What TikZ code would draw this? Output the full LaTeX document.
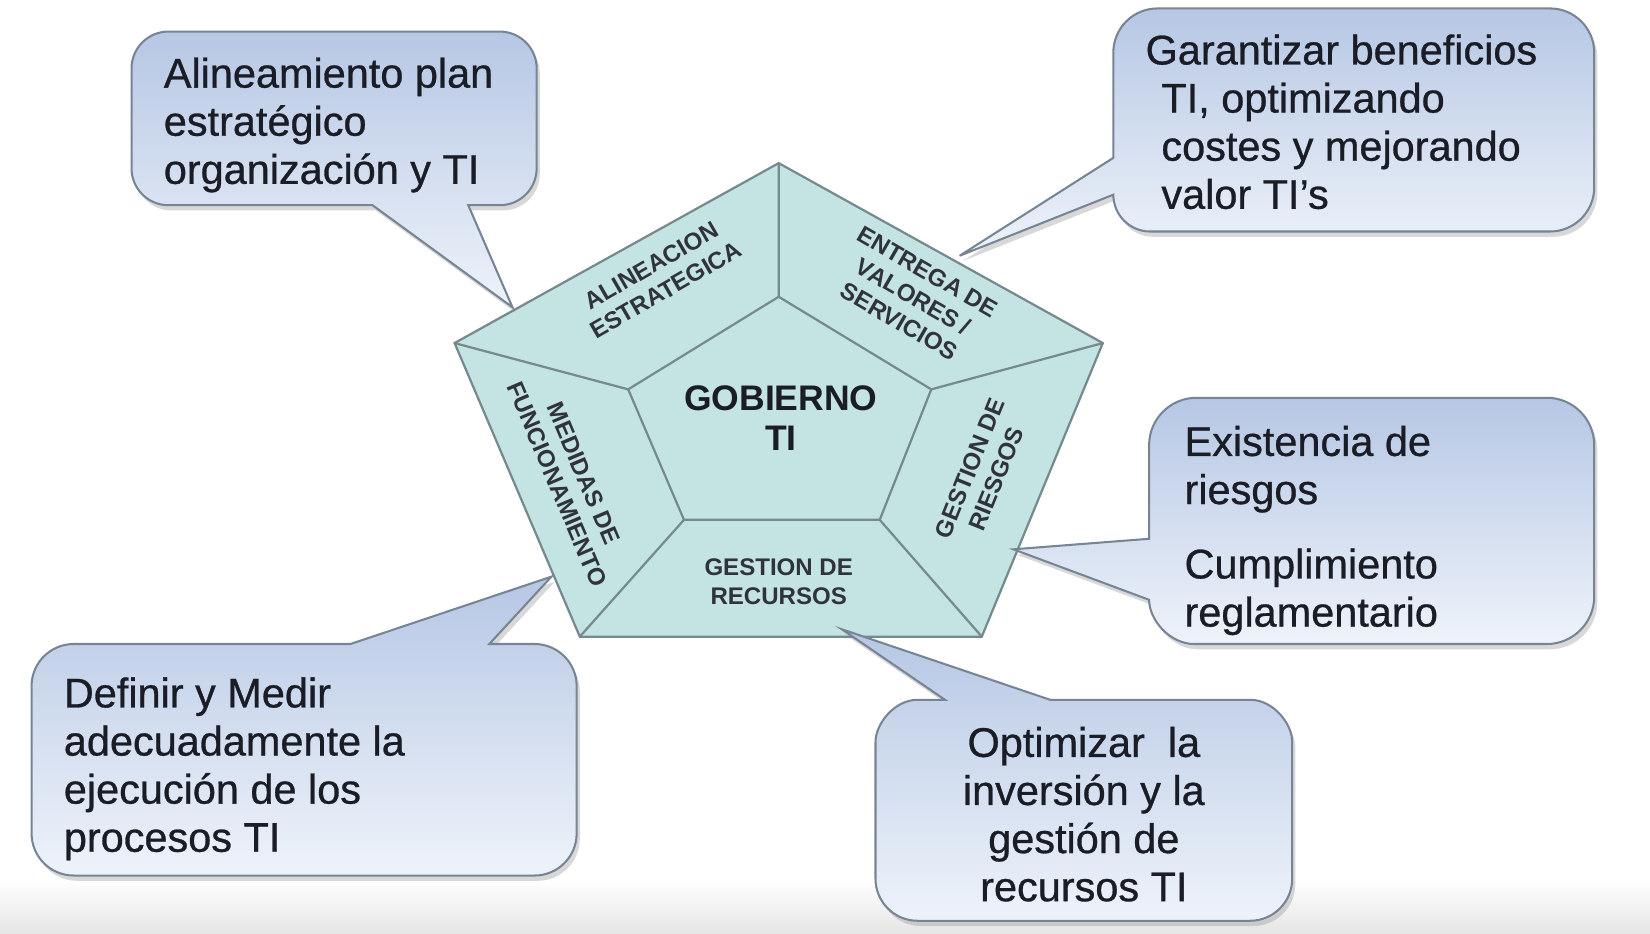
\documentclass[tikz,border=0pt]{standalone}
\usepackage{fontspec}
\setmainfont{Liberation Sans}
\newfontfamily\cfont{Liberation Sans}[FakeBold=0.7]
\usetikzlibrary{shadows}
\definecolor{cTop}{RGB}{182,199,228}
\definecolor{cBot}{RGB}{238,243,250}
\definecolor{cLine}{RGB}{118,132,148}
\definecolor{pFill}{RGB}{196,228,228}
\definecolor{pLine}{RGB}{118,138,142}
\definecolor{pShadow}{RGB}{172,172,172}
\definecolor{txt}{RGB}{26,28,38}
\begin{document}
\begin{tikzpicture}[x=0.01cm,y=-0.01cm,
  callout/.style={draw=cLine, line width=0.55pt, top color=cTop, bottom color=cBot,
    drop shadow={opacity=0.3, shadow xshift=0.03cm, shadow yshift=-0.05cm}},
  ctext/.style={inner sep=0pt, font=\cfont\fontsize{11.2pt}{13pt}\selectfont, text=txt},
  seg/.style={inner sep=0pt, font=\bfseries\fontsize{6.5pt}{7.7pt}\selectfont, align=center, text=txt!90},
  pline/.style={draw=pLine, line width=0.6pt}
]
\useasboundingbox (0,0) rectangle (1568,887);
\fill[white] (0,0) rectangle (1568,887);
\shade[top color=white, bottom color=black!10] (0,835) rectangle (1568,887);

% pentagon corners
\coordinate (T) at (740,155);
\coordinate (UR) at (1048,326);
\coordinate (LR) at (933,605);
\coordinate (LL) at (551,605);
\coordinate (UL) at (432,326);
\coordinate (t) at (740,282);
\coordinate (ur) at (885,370);
\coordinate (lr) at (836,494);
\coordinate (ll) at (650,494);
\coordinate (ul) at (597,370);

\fill[pShadow, shift={(7,6)}] (T) -- (UR) -- (LR) -- (LL) -- (UL) -- cycle;
\filldraw[fill=pFill, pline] (T) -- (UR) -- (LR) -- (LL) -- (UL) -- cycle;
\draw[pline] (t) -- (ur) -- (lr) -- (ll) -- (ul) -- cycle;
\draw[pline] (T) -- (t) (UR) -- (ur) (LR) -- (lr) (LL) -- (ll) (UL) -- (ul);

\node[inner sep=0pt, font=\bfseries\fontsize{9.6pt}{10.8pt}\selectfont, align=center, anchor=north, text=txt] (gob) at (742,366) {GOBIERNO\\TI};
\node[seg, rotate=30] (s1) at (626,264) {ALINEACION\\ESTRATEGICA};
\node[seg, rotate=-30] (s2) at (868,282) {ENTREGA DE\\VALORES /\\SERVICIOS};
\node[seg, rotate=68] (s3) at (934,450) {GESTION DE\\RIESGOS};
\node[seg, rotate=-67] (s4) at (542,455) {MEDIDAS DE\\FUNCIONAMIENTO};
\node[seg] (s5) at (740,553) {GESTION DE\\RECURSOS};

% tail tips
\coordinate (tip1) at (487,292);
\coordinate (tip2) at (912,243);
\coordinate (tip3) at (963,522);
\coordinate (tip4) at (524,548);
\coordinate (tip5) at (800,598);

% callout 1
\path[callout] (160,30) -- (475,30) .. controls (494.3,30) and (510,45.7) .. (510,65) -- (510,160)
  .. controls (510,179.3) and (494.3,195) .. (475,195) -- (445,195) -- (tip1) -- (354,195) -- (160,195)
  .. controls (140.7,195) and (125,179.3) .. (125,160) -- (125,65)
  .. controls (125,45.7) and (140.7,30) .. (160,30) -- cycle;
% callout 2
\path[callout] (1100,8) -- (1473,8) .. controls (1496.2,8) and (1515,26.8) .. (1515,50) -- (1515,178)
  .. controls (1515,201.2) and (1496.2,220) .. (1473,220) -- (1093,220)
  .. controls (1073.7,220) and (1058,204.3) .. (1058,185)
  -- (tip2) -- (1058,150) -- (1058,50) .. controls (1058,26.8) and (1076.8,8) .. (1100,8) -- cycle;
% callout 3
\path[callout] (1137,378) -- (1470,378) .. controls (1494.8,378) and (1515,398.2) .. (1515,423) -- (1515,567)
  .. controls (1515,591.8) and (1494.8,612) .. (1470,612) -- (1135,612)
  .. controls (1111.3,612) and (1092,588.8) .. (1092,570)
  -- (tip3) -- (1092,512) -- (1092,423) .. controls (1092,398.2) and (1112.2,378) .. (1137,378) -- cycle;
% callout 4
\path[callout] (70,612) -- (333,612) -- (tip4) -- (465,612) -- (508,612)
  .. controls (530.1,612) and (548,629.9) .. (548,652) -- (548,792)
  .. controls (548,814.1) and (530.1,832) .. (508,832) -- (70,832)
  .. controls (47.9,832) and (30,814.1) .. (30,792) -- (30,652)
  .. controls (30,629.9) and (47.9,612) .. (70,612) -- cycle;
% callout 5
\path[callout] (872,665) -- (898,665) -- (tip5) -- (998,665) -- (1188,665)
  .. controls (1210.1,665) and (1228,687.9) .. (1228,705) -- (1228,835)
  .. controls (1228,857.1) and (1210.1,875) .. (1188,875) -- (872,875)
  .. controls (849.9,875) and (832,857.1) .. (832,835) -- (832,705)
  .. controls (832,687.9) and (849.9,665) .. (872,665) -- cycle;

\node[ctext, anchor=north west, align=left] (c1) at (155,54) {Alineamiento plan\\estratégico\\organización y TI};
\node[ctext, anchor=north west, align=left] (c2) at (1088,32) {Garantizar beneficios\\\hspace*{0.15cm}TI, optimizando\\\hspace*{0.15cm}costes y mejorando\\\hspace*{0.15cm}valor TI’s};
\node[ctext, anchor=north west, align=left] (c3) at (1125,404) {Existencia de\\riesgos\\[0.25cm]Cumplimiento\\reglamentario};
\node[ctext, anchor=north west, align=left] (c4) at (60,643) {Definir y Medir\\adecuadamente la\\ejecución de los\\procesos TI};
\node[ctext, anchor=north, align=center] (c5) at (1030,690) {Optimizar\ \ la\\inversión y la\\gestión de\\recursos TI};
\end{tikzpicture}
\end{document}
